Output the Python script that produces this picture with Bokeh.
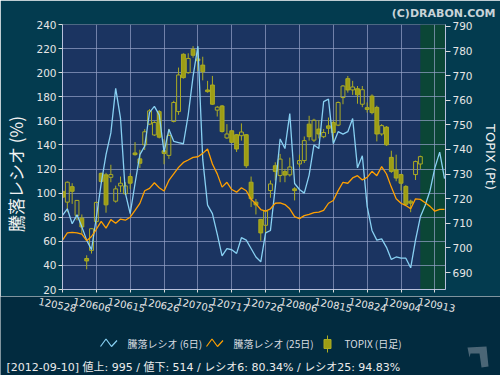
from bokeh.plotting import figure
from bokeh.models import Range1d, LinearAxis, FixedTicker, BoxAnnotation
from bokeh.core.properties import value
from bokeh.embed import file_html
from bokeh.resources import INLINE

# ---------------- data ----------------
tick_labels = ["120528", "120606", "120615", "120626", "120705", "120717",
               "120726", "120806", "120815", "120824", "120904", "120913"]
TICK_EVERY = 7  # trading days between labelled ticks

topix_open = [723.0, 718.6, 724.9, 713.2, 712.1, 695.7, 699.0, 710.7, 730.3, 729.7,
              728.7, 719.0, 725.2, 722.0, 729.0, 738.6, 736.2, 741.9, 750.3, 745.9,
              755.4, 739.5, 737.6, 751.4, 755.4, 778.7, 771.2, 780.7, 776.8, 774.3,
              764.2, 766.2, 756.0, 757.7, 744.7, 747.6, 746.0, 745.6, 746.0, 726.7,
              718.6, 711.6, 709.2, 723.3, 733.4, 729.4, 731.0, 729.7, 724.0, 734.1,
              735.5, 750.3, 743.8, 748.3, 745.2, 749.6, 751.0, 749.9, 761.1, 768.8,
              764.2, 764.7, 758.4, 757.0, 761.7, 757.1, 746.3, 749.1, 736.8, 731.7,
              729.8, 725.0, 719.0, 729.8, 734.1]
topix_close = [720.6, 726.7, 723.0, 719.3, 708.5, 694.7, 707.8, 718.5, 727.0, 717.5,
               729.8, 724.0, 726.3, 725.2, 726.3, 737.9, 734.4, 747.2, 755.7, 751.0,
               745.0, 738.4, 745.7, 759.1, 770.3, 769.2, 777.0, 778.3, 776.1, 771.6,
               763.5, 758.4, 757.2, 747.3, 746.3, 742.9, 740.2, 747.1, 733.4, 720.0,
               717.5, 706.1, 715.0, 726.0, 731.1, 736.1, 729.6, 732.9, 723.3, 735.5,
               743.6, 745.2, 751.9, 746.3, 746.9, 748.6, 746.9, 759.1, 765.8, 764.2,
               765.4, 762.2, 764.3, 756.3, 755.0, 746.3, 749.7, 741.9, 731.1, 728.4,
               726.3, 717.7, 718.2, 735.1, 737.1]
topix_high = [724.0, 727.0, 726.3, 719.5, 713.6, 697.0, 708.0, 718.8, 730.6, 730.5,
              733.8, 725.3, 729.0, 726.7, 730.3, 743.0, 739.9, 748.3, 756.4, 751.5,
              756.0, 744.2, 748.4, 759.8, 773.3, 779.1, 779.1, 782.0, 781.3, 777.7,
              767.9, 769.9, 757.7, 758.1, 750.3, 747.9, 746.3, 750.6, 746.3, 729.0,
              719.9, 711.8, 715.5, 727.4, 734.8, 738.2, 732.1, 736.7, 724.7, 737.9,
              745.3, 753.7, 752.5, 751.9, 748.3, 753.0, 751.7, 759.5, 766.2, 769.9,
              767.9, 765.8, 765.8, 759.1, 762.4, 757.8, 750.3, 749.5, 739.5, 737.9,
              730.1, 725.5, 719.6, 735.5, 737.5]
topix_low = [719.3, 714.5, 717.9, 711.2, 705.8, 691.3, 697.7, 709.8, 726.5, 714.3,
             726.7, 718.4, 722.6, 721.5, 724.0, 737.5, 732.5, 739.8, 750.0, 745.5,
             744.5, 734.0, 736.2, 751.0, 754.1, 768.8, 770.8, 777.3, 771.9, 768.1,
             763.1, 758.1, 753.4, 746.9, 744.3, 742.6, 739.0, 743.6, 732.5, 716.6,
             713.6, 702.9, 705.6, 720.4, 727.4, 726.7, 726.7, 729.0, 719.3, 732.8,
             734.5, 743.6, 743.0, 744.5, 744.6, 746.3, 742.9, 749.5, 758.4, 763.1,
             762.2, 758.6, 757.2, 755.0, 754.3, 743.3, 745.6, 741.5, 730.5, 727.1,
             723.3, 717.5, 714.5, 727.6, 732.1]

ratio6 = [81.5, 87, 74.6, 82, 72, 61, 53, 80, 108, 132,
          150, 187, 162, 100, 83, 108, 132, 139, 167, 172,
          165, 134, 153, 143, 142, 141, 165, 197, 222, 128,
          90, 83, 66, 48, 54, 53, 50, 63, 61, 54,
          47, 43, 67, 69, 105, 145, 137, 166, 108, 103,
          100, 115, 140, 137, 176, 178, 141, 151, 149, 151,
          162, 121, 131, 89, 69, 61, 62, 55, 45, 47,
          46, 46, 38, 61, 80.34, 90, 102, 121, 134, 112]
ratio25 = [61, 67, 67.5, 67, 66, 60.5, 64, 70, 76.5, 71,
           78, 75, 78.5, 77.5, 80, 85.6, 91.5, 102, 104, 108.6,
           104.5, 101.7, 110.5, 116, 121.4, 125.5, 127.5, 129.7, 130.2, 133,
           136.6, 124.2, 116, 105, 109, 103, 100.8, 104.5, 102, 95,
           91.1, 86.4, 85, 87, 91.6, 92, 90.5, 87, 80.5, 78.8,
           81.3, 82.4, 83.8, 84.3, 85.7, 91.6, 93.9, 102.1, 109, 108.2,
           112.6, 114.5, 111, 113.1, 118.1, 114.5, 122, 115.9, 105, 95.3,
           91.6, 89.7, 87, 95.3, 94.83, 92, 89, 85, 86.5, 86.5]

status_date = "2012-09-10"
advances = 995
declines = 514
legend_labels = ["騰落レシオ (6日)", "騰落レシオ (25日)", "TOPIX (日足)"]

# ---------------- styles ----------------
OUTER = "#033b4f"
OUTER2 = "#022b3f"
PLOT_BG = "#1b3461"
GREEN = "#0b4636"
GRID = "#95a2c8"
BLUE = "#88d0f2"
ORANGE = "#ffa000"
OLIVE_L = "#acac22"
OLIVE_F = "#9d9d14"
TXT = "#e6e6e6"

X_END = 79.2
LEFT_B, RIGHT_B, TOP_B = 57, 53, 23
W = 500
H1 = 296
ppd = (W - LEFT_B - RIGHT_B) / X_END

tick_x = [k * TICK_EVERY for k in range(len(tick_labels))]
last = len(topix_close) - 1

p = figure(width=W, height=H1, x_range=Range1d(0, X_END), y_range=Range1d(20, 240),
           output_backend="svg", toolbar_location=None,
           min_border_left=LEFT_B, min_border_right=RIGHT_B,
           min_border_top=TOP_B, min_border_bottom=H1 - TOP_B - 266,
           background_fill_color=PLOT_BG, border_fill_color=OUTER,
           outline_line_color=None)

p.title.text = "(C)DRABON.COM"
p.title.align = "right"
p.title.text_font = "DejaVu Sans"
p.title.text_font_size = "11px"
p.title.text_font_style = "bold"
p.title.text_color = "#c9d3d8"
p.title.standoff = 9
p.title.offset = -50

p.extra_y_ranges = {"topix": Range1d(683.1, 790.8)}

# last-day / future shaded region
p.add_layout(BoxAnnotation(left=last, fill_color=GREEN, fill_alpha=1.0,
                           line_color=None, level="image"))

# left axis
yl = p.yaxis[0]
yl.ticker = FixedTicker(ticks=list(range(20, 241, 20)))
yl.axis_label = "騰落レシオ (%)\u3000\u3000"
yl.axis_label_text_font = "Noto Sans CJK JP"
yl.axis_label_text_font_size = "17px"
yl.axis_label_text_font_style = "normal"
yl.axis_label_text_color = "#f2f2f2"
yl.axis_label_standoff = 5

# right axis
yr = LinearAxis(y_range_name="topix", ticker=FixedTicker(ticks=list(range(690, 791, 10))),
                axis_label="TOPIX (Pt)")
p.add_layout(yr, "right")
yr.axis_label_text_font = "DejaVu Sans"
yr.axis_label_text_font_size = "13px"
yr.axis_label_text_font_style = "normal"
yr.axis_label_text_color = "#f2f2f2"
yr.axis_label_standoff = 7

for ax in (yl, yr):
    ax.major_label_text_font = "DejaVu Sans"
    ax.major_label_text_font_size = "10.5px"
    ax.major_label_text_color = TXT
    ax.major_label_standoff = 2
    ax.major_tick_in = 0
    ax.minor_tick_line_color = None
    ax.major_tick_line_color = "#dcdcdc"
    ax.axis_line_color = "#b8c0dc"
yl.major_tick_out = 4
yr.major_tick_out = 5

# bottom axis: tick marks only (its labels are drawn in the strip below)
xa = p.xaxis[0]
xa.ticker = FixedTicker(ticks=tick_x)
xa.major_label_text_font_size = "1px"
xa.major_label_text_color = None
xa.major_label_standoff = 0
xa.major_tick_out = 3
xa.major_tick_in = 0
xa.minor_tick_line_color = None
xa.major_tick_line_color = "#dcdcdc"
xa.axis_line_color = "#b8c0dc"

p.xgrid.ticker = FixedTicker(ticks=tick_x)
p.ygrid.ticker = FixedTicker(ticks=list(range(20, 241, 20)))
p.grid.grid_line_color = GRID
p.grid.grid_line_alpha = 0.7

# candles
idx = list(range(len(topix_close)))
b_top = [max(o, c) for o, c in zip(topix_open, topix_close)]
b_bot = [min(o, c) for o, c in zip(topix_open, topix_close)]
p.segment(x0=idx, y0=b_top, x1=idx, y1=topix_high, y_range_name="topix",
          line_color=OLIVE_L, line_width=1)
p.segment(x0=idx, y0=topix_low, x1=idx, y1=b_bot, y_range_name="topix",
          line_color=OLIVE_L, line_width=1)
up = [i for i in idx if topix_close[i] >= topix_open[i]]
dn = [i for i in idx if topix_close[i] < topix_open[i]]
p.vbar(x=up, top=[b_top[i] for i in up], bottom=[b_bot[i] for i in up], width=0.8,
       y_range_name="topix", fill_color=None, line_color=OLIVE_L, line_width=1)
p.vbar(x=dn, top=[b_top[i] for i in dn], bottom=[b_bot[i] for i in dn], width=0.8,
       y_range_name="topix", fill_color=OLIVE_F, line_color=OLIVE_L, line_width=1)

days = list(range(len(ratio6)))
p.line(days, ratio6, line_color=BLUE, line_width=1.3)
p.line(days, ratio25, line_color=ORANGE, line_width=1.3)

# ---------------- lower strip: tick labels, legend, status ----------------
H2 = 375 - H1
q = figure(width=W, height=H2, x_range=Range1d(-LEFT_B / ppd, (W - LEFT_B) / ppd),
           y_range=Range1d(0, H2), output_backend="svg", toolbar_location=None,
           min_border=0, x_axis_location=None, y_axis_location=None,
           background_fill_color=OUTER2, border_fill_color=OUTER2,
           outline_line_color=None)
q.grid.visible = False
q.extra_x_ranges = {"px": Range1d(0, W)}


def sy(screen_y):
    return 375 - screen_y


q.text(x=tick_x, y=[sy(304)] * len(tick_x), text=tick_labels, angle=-0.2,
       text_align="center", text_baseline="middle", text_font=value("DejaVu Sans"),
       text_font_size="10px", text_color=TXT)

# legend icons
q.line(x=[100, 105.5, 111, 116.5], y=[sy(346), sy(338.5), sy(346), sy(340)],
       x_range_name="px", line_color=BLUE, line_width=1.2)
q.line(x=[206, 211.5, 217, 222.5], y=[sy(346), sy(338.5), sy(346), sy(340)],
       x_range_name="px", line_color=ORANGE, line_width=1.2)
q.segment(x0=[327], y0=[sy(352)], x1=[327], y1=[sy(335)], x_range_name="px",
          line_color=OLIVE_L, line_width=1)
q.quad(left=[323.5], right=[330.5], bottom=[sy(348)], top=[sy(339)], x_range_name="px",
       fill_color=OLIVE_F, line_color=OLIVE_L)
q.text(x=[127, 233, 344], y=[sy(343)] * 3, text=legend_labels, x_range_name="px",
       text_align="left", text_baseline="middle", text_font=value("Noto Sans CJK JP"),
       text_font_size="10px", text_color="#d8dce0")

status = (f"[{status_date}]  値上: {advances} / 値下: {declines} / "
          f"レシオ6: {ratio6[last]:.2f}% / レシオ25: {ratio25[last]:.2f}%")
q.text(x=[6], y=[sy(366.5)], text=[status], x_range_name="px",
       text_align="left", text_baseline="middle",
       text_font=value("DejaVu Sans, Noto Sans CJK JP"),
       text_font_size="11px", text_color="#ececec")

# small corner logo
q.patch(x=[467, 486, 488, 481, 479, 470, 469], y=[sy(347), sy(346), sy(366), sy(367),
        sy(353), sy(353), sy(357)], x_range_name="px", fill_color="#4b6676",
        line_color=None)

open("out.html", "w").write(file_html([p, q], INLINE))
